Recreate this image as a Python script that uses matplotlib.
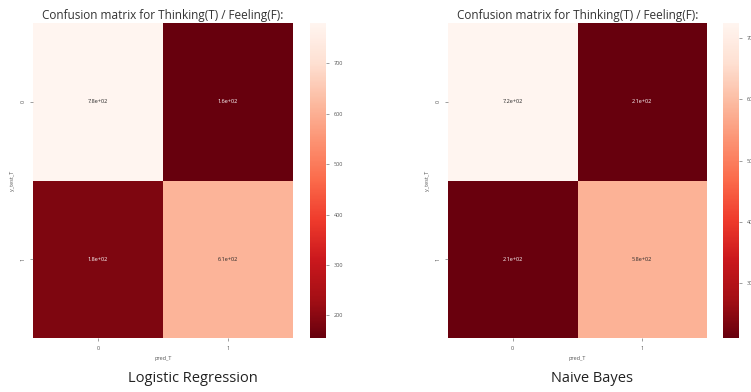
import numpy as np
import matplotlib
matplotlib.use("Agg")
import matplotlib.pyplot as plt
import seaborn as sns

# Confusion matrices for Thinking(T) / Feeling(F)
labels = ["0", "1"]
lr_matrix = [[780, 155], [185, 610]]
nb_matrix = [[724, 211], [214, 580]]
model_names = ["Logistic Regression", "Naive Bayes"]
title = "Confusion matrix for Thinking(T) / Feeling(F):"
x_name = "pred_T"
y_name = "y_test_T"

plt.rcParams["font.family"] = ["Open Sans", "DejaVu Sans"]

fig = plt.figure(figsize=(7.51, 3.92), dpi=100)
W, H = 751, 392

def px_axes(x0, x1, y0, y1):
    return fig.add_axes([x0 / W, 1 - y1 / H, (x1 - x0) / W, (y1 - y0) / H])

panels = [
    (lr_matrix, (33, 293), (310, 326), 193),
    (nb_matrix, (448, 707), (723, 739), 592),
]

for (mat, (hx0, hx1), (cx0, cx1), cap_x), name in zip(panels, model_names):
    ax = px_axes(hx0, hx1, 23, 338)
    cax = px_axes(cx0, cx1, 23, 338)
    sns.heatmap(np.array(mat), annot=True, cmap="Reds_r", ax=ax, cbar_ax=cax,
                xticklabels=labels, yticklabels=labels,
                annot_kws={"fontsize": 4})
    ax.set_title(title, fontsize=8.5, color="#333333", pad=3)
    ax.set_xlabel(x_name, fontsize=4, color="#555555", labelpad=4)
    ax.set_ylabel(y_name, fontsize=4, color="#555555", labelpad=4)
    ax.tick_params(labelsize=4, colors="#555555", length=2, width=0.4)
    cax.tick_params(labelsize=4, colors="#555555", length=2, width=0.4)
    fig.text(cap_x / W, 1 - 379 / H, name, ha="center", va="center",
             fontsize=10.5, color="#222222")

fig.savefig("out.png", dpi=100)
